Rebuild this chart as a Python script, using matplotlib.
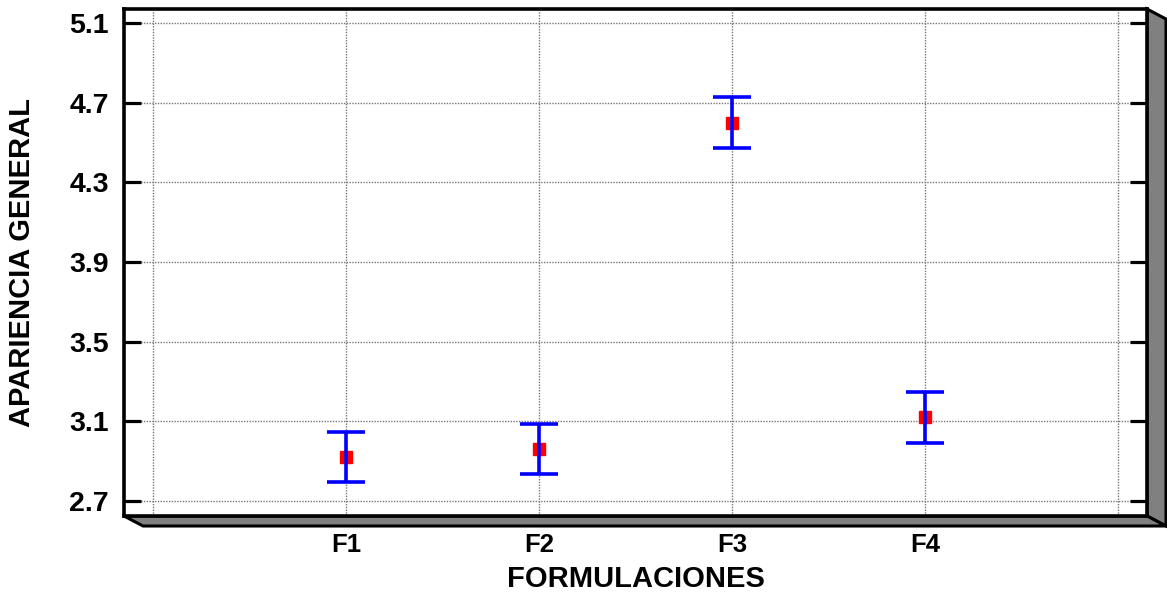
import numpy as np
import matplotlib.pyplot as plt
from matplotlib.patches import Polygon

# data
formulaciones = ["F1", "F2", "F3", "F4"]
medias = [2.92, 2.96, 4.60, 3.12]
error = [0.125, 0.125, 0.128, 0.127]

y_ticks = [2.7, 3.1, 3.5, 3.9, 4.3, 4.7, 5.1]

plt.rcParams['font.family'] = ['Liberation Sans', 'DejaVu Sans']
plt.rcParams['font.weight'] = 'bold'

W, H = 1167, 598
fig = plt.figure(figsize=(W / 100, H / 100), dpi=100)
ax = fig.add_axes([124 / W, 1 - 516 / H, (1147 - 124) / W, (516 - 9) / H])

x = np.arange(1, len(formulaciones) + 1)

# red square means, blue error bars drawn on top
ax.plot(x, medias, 's', color='red', markersize=9.3, zorder=3)
ax.errorbar(x, medias, yerr=error, fmt='none', ecolor='blue',
            elinewidth=2.6, capsize=13.5, capthick=2.6, zorder=4)

ax.set_xlim(-0.15, 5.15)
ax.set_ylim(2.625, 5.17)
ax.set_xticks(range(0, 6))
ax.set_xticklabels([''] + formulaciones + [''])
ax.set_yticks(y_ticks)
ax.set_yticklabels(['%.1f' % v for v in y_ticks])

ax.grid(True, color='#777777', linestyle=(0, (1, 1)), linewidth=1.0)
ax.set_axisbelow(True)

ax.tick_params(axis='x', length=0, pad=12, labelsize=18.5)
ax.tick_params(axis='y', direction='in', length=12, width=2.3, right=True,
               pad=11, labelsize=20.5)
for s in ax.spines.values():
    s.set_linewidth(2.6)

ax.set_xlabel('FORMULACIONES', fontsize=21, fontweight='bold', labelpad=6)
ax.set_ylabel('APARIENCIA GENERAL', fontsize=21, fontweight='bold', labelpad=24)

# 3D-ish gray shadow on the right and bottom of the plot box
pos = ax.get_position()
dx, dy = 19 / W, 10 / H
x0, x1, y0, y1 = pos.x0, pos.x1, pos.y0, pos.y1
right = Polygon([(x1, y1), (x1 + dx, y1 - dy), (x1 + dx, y0 - dy), (x1, y0)],
                closed=True, facecolor='#808080', edgecolor='black',
                linewidth=2.2, transform=fig.transFigure, zorder=0)
bottom = Polygon([(x0, y0), (x1, y0), (x1 + dx, y0 - dy), (x0 + dx, y0 - dy)],
                 closed=True, facecolor='#808080', edgecolor='black',
                 linewidth=2.2, transform=fig.transFigure, zorder=0)
fig.add_artist(right)
fig.add_artist(bottom)

fig.savefig('out.png', dpi=100)
